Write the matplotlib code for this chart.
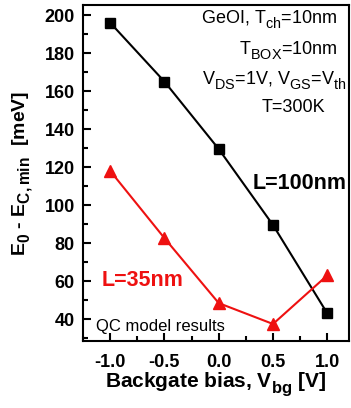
import matplotlib
matplotlib.use("Agg")
import matplotlib.pyplot as plt
import matplotlib._mathtext as _mt
from matplotlib.ticker import MultipleLocator

plt.rcParams['font.family'] = ['Liberation Sans', 'DejaVu Sans']
plt.rcParams['mathtext.fontset'] = 'custom'
plt.rcParams['mathtext.rm'] = 'Liberation Sans'
plt.rcParams['mathtext.bf'] = 'Liberation Sans:bold'
plt.rcParams['mathtext.it'] = 'Liberation Sans:italic'
# slightly larger, lower-set subscripts than the mathtext default
_mt.SHRINK_FACTOR = 0.8
_mt.FontConstantsBase.sub1 = 0.55
_mt.FontConstantsBase.sub2 = 0.6

vbg = [-1.0, -0.5, 0.0, 0.5, 1.0]
vbg_labels = ['-1.0', '-0.5', '0.0', '0.5', '1.0']
e_L100 = [196, 165, 129.5, 89.5, 43]
e_L35 = [118, 82.6, 48.4, 37.4, 63]

RED = '#ee1111'

fig = plt.figure(figsize=(3.51, 4.08), dpi=100)
ax = fig.add_axes([0.2365, 0.164, 0.7578, 0.8237])

ax.plot(vbg, e_L100, color='black', lw=1.5, marker='s', ms=7, zorder=3)
ax.plot(vbg, e_L35, color=RED, lw=1.5, marker='^', ms=8, zorder=3)

ax.set_xlim(-1.25, 1.2)
ax.set_ylim(28.4, 205.3)
ax.set_xticks(vbg)
ax.set_xticklabels(vbg_labels)
ax.xaxis.set_minor_locator(MultipleLocator(0.25))
ax.yaxis.set_major_locator(MultipleLocator(20))
ax.yaxis.set_minor_locator(MultipleLocator(10))
ax.tick_params(which='both', direction='in', top=False, right=False, width=1.5)
ax.tick_params(which='major', length=6, labelsize=13, pad=6)
ax.tick_params(axis='x', which='major', pad=9)
ax.tick_params(which='minor', length=3.5)
for lab in ax.get_xticklabels() + ax.get_yticklabels():
    lab.set_fontweight('bold')
for s in ax.spines.values():
    s.set_linewidth(1.5)

ax.set_xlabel(r'Backgate bias, V$_{\mathbf{bg}}$ [V]', fontsize=15, fontweight='bold', labelpad=0)
ax.set_ylabel(r'E$_{\mathbf{0}}$ - E$_{\mathbf{C,min}}$  [meV]', fontsize=14, fontweight='bold', labelpad=6)

tr = ax.transAxes
ax.text(0.955, 0.955, r'GeOI, T$_{\mathrm{ch}}$=10nm', transform=tr, ha='right', va='center', fontsize=13)
ax.text(0.955, 0.865, r'T$_{\mathrm{BOX}}$=10nm', transform=tr, ha='right', va='center', fontsize=13)
ax.text(0.99, 0.775, r'V$_{\mathrm{DS}}$=1V, V$_{\mathrm{GS}}$=V$_{\mathrm{th}}$', transform=tr, ha='right', va='center', fontsize=13)
ax.text(0.79, 0.695, 'T=300K', transform=tr, ha='center', va='center', fontsize=13)
ax.text(0.99, 0.47, 'L=100nm', transform=tr, ha='right', va='center', fontsize=15.5, fontweight='bold')
ax.text(0.07, 0.18, 'L=35nm', transform=tr, ha='left', va='center', fontsize=15.5, fontweight='bold', color=RED)
ax.text(0.05, 0.043, 'QC model results', transform=tr, ha='left', va='center', fontsize=12)

fig.savefig('out.png', dpi=100)
